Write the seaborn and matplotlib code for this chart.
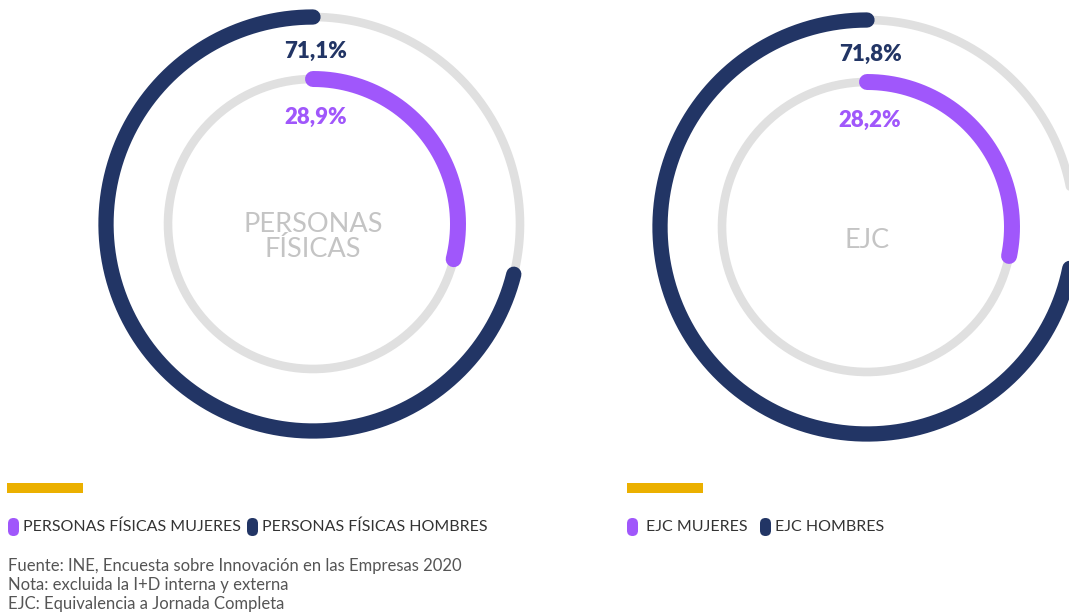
import numpy as np
import matplotlib.pyplot as plt
import seaborn as sns
from matplotlib.patches import FancyBboxPatch, Rectangle

# --- data ---
centre_labels = ["PERSONAS\nFÍSICAS", "EJC"]
mujeres = [28.9, 28.2]
hombres = [71.1, 71.8]
legend_labels = [
    ["PERSONAS FÍSICAS MUJERES", "PERSONAS FÍSICAS HOMBRES"],
    ["EJC MUJERES", "EJC HOMBRES"],
]
notes = [
    "Fuente: INE, Encuesta sobre Innovación en las Empresas 2020",
    "Nota: excluida la I+D interna y externa",
    "EJC: Equivalencia a Jornada Completa",
]

# --- style ---
NAVY = "#223565"
PURPLE = "#a057fb"
TRACK = "#e0e0e0"
YELLOW = "#ebb000"
CENTRE_GREY = "#c4c4c4"

W, H = 1069, 613
RMAX = 240
R_OUT, R_IN = 207, 145
centres = [(313, 224), (867, 227)]      # pixel centres of the two rings
legend_x = [(8, 247), (627, 760)]
legend_text_gap = [(15, 15), (19, 15)]
bar_x = [7, 627]

sns.set_theme(style="white")
plt.rcParams['font.family'] = ['Lato', 'DejaVu Sans']

fig = plt.figure(figsize=(W / 100, H / 100), dpi=100)

# overlay axes in pixel coordinates for texts and decorations
ax0 = fig.add_axes([0, 0, 1, 1])
ax0.set_xlim(0, W)
ax0.set_ylim(H, 0)
ax0.set_axis_off()


def fmt(v):
    return f"{v:.1f}%".replace(".", ",")


for i, (cx, cy) in enumerate(centres):
    ax = fig.add_axes([(cx - RMAX) / W, (H - cy - RMAX) / H, 2 * RMAX / W, 2 * RMAX / H],
                      projection="polar")
    ax.set_theta_zero_location("N")
    ax.set_theta_direction(-1)
    ax.set_ylim(0, RMAX)
    ax.set_axis_off()

    full = np.linspace(0, 2 * np.pi, 400)
    for r in (R_OUT, R_IN):
        sns.lineplot(x=full, y=np.full_like(full, r), ax=ax, color=TRACK,
                     linewidth=6.2, sort=False, estimator=None)

    # women: clockwise from the top on the inner ring
    th_m = np.linspace(0, 2 * np.pi * mujeres[i] / 100, 200)
    sns.lineplot(x=th_m, y=np.full_like(th_m, R_IN), ax=ax, color=PURPLE,
                 linewidth=11.5, sort=False, estimator=None, solid_capstyle="round")
    # men: counter-clockwise from the top on the outer ring
    th_h = np.linspace(0, -2 * np.pi * hombres[i] / 100, 400)
    sns.lineplot(x=th_h, y=np.full_like(th_h, R_OUT), ax=ax, color=NAVY,
                 linewidth=11, sort=False, estimator=None, solid_capstyle="round")
    ax.set_xlabel("")
    ax.set_ylabel("")

    # value labels
    ax0.text(cx + 3, cy - R_OUT + 34, fmt(hombres[i]), color=NAVY, fontsize=16,
             fontweight="heavy", ha="center", va="center")
    ax0.text(cx + 3, cy - R_IN + 38, fmt(mujeres[i]), color=PURPLE, fontsize=16,
             fontweight="heavy", ha="center", va="center")
    ax0.text(cx, cy + 13, centre_labels[i], color=CENTRE_GREY, fontsize=19.5,
             fontweight="normal", ha="center", va="center", linespacing=1.0)

    # yellow accent bar
    ax0.add_patch(Rectangle((bar_x[i], 483), 76, 10, color=YELLOW, lw=0))

    # legend
    for j, col in enumerate((PURPLE, NAVY)):
        lx = legend_x[i][j]
        ax0.add_patch(FancyBboxPatch((lx, 518), 11, 18,
                                     boxstyle="round,pad=0,rounding_size=5.5",
                                     color=col, lw=0))
        ax0.text(lx + legend_text_gap[i][j], 527, legend_labels[i][j], color="#333333",
                 fontsize=11.5, ha="left", va="center")

for k, line in enumerate(notes):
    ax0.text(8, 566 + 19 * k, line, color="#555555", fontsize=12,
             fontweight="normal", ha="left", va="center")

fig.savefig("out.png", dpi=100)
